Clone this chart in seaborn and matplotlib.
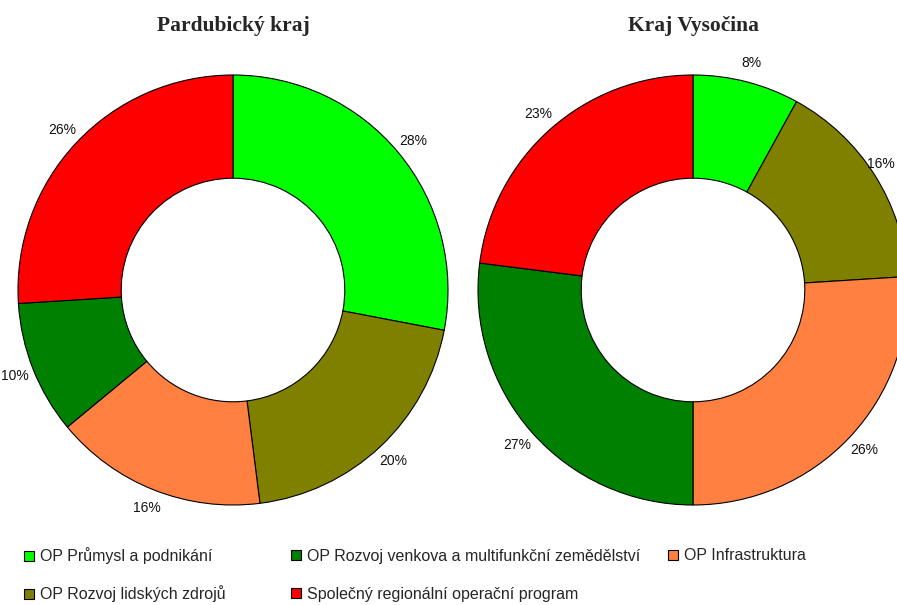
import matplotlib
matplotlib.use("Agg")
import matplotlib.pyplot as plt
import seaborn as sns
from matplotlib.patches import Patch

sns.set_theme(style="white")
plt.rcParams['font.family'] = ['Liberation Sans', 'DejaVu Sans']

categories = [
    "OP Průmysl a podnikání",
    "OP Rozvoj lidských zdrojů",
    "OP Infrastruktura",
    "OP Rozvoj venkova a multifunkční zemědělství",
    "Společný regionální operační program",
]
colors = ["#00FF00", "#808000", "#FF8040", "#008000", "#FF0000"]
regions = ["Pardubický kraj", "Kraj Vysočina"]
pardubicky = [28, 20, 16, 10, 26]
vysocina = [8, 16, 26, 27, 23]
values = [pardubicky, vysocina]

fig = plt.figure(figsize=(8.97, 6.05), dpi=100)
W, H = 897, 605
centers = [(233, 290), (693, 290)]
R = 215
all_texts = []
for (cx, cy), vals, title in zip(centers, values, regions):
    ax = fig.add_axes([(cx - R) / W, (H - cy - R) / H, 2 * R / W, 2 * R / H])
    wedges, texts = ax.pie(
        vals, colors=colors, startangle=90, counterclock=False, radius=1,
        labels=[f"{v}%" for v in vals], labeldistance=1.09,
        wedgeprops=dict(width=0.48, edgecolor="black", linewidth=0.8),
        textprops=dict(fontsize=10, color="#111111"),
    )
    for t in texts:
        t.set_ha("center")
        t.set_va("center")
        t.set_clip_on(False)
        all_texts.append(t)
    ax.set_xlim(-1, 1)
    ax.set_ylim(-1, 1)
    ax.set_aspect("equal")
    ax.axis("off")
    fig.text(cx / W, 1 - 26 / H, title, ha="center", va="center",
             fontsize=15.5, fontweight="bold", family="Liberation Serif")

# keep labels inside the figure
fig.canvas.draw()
renderer = fig.canvas.get_renderer()
for t in all_texts:
    bb = t.get_window_extent(renderer)
    if bb.x1 > W - 2:
        shift = bb.x1 - (W - 2)
        t.set_transform(t.get_transform() + matplotlib.transforms.Affine2D().translate(-shift, 0))

# legend: one entry per slot (x, y in pixels)
slots = {0: (24, 556), 3: (291, 556), 2: (668, 556), 1: (24, 594), 4: (291, 594)}
for i, (x0, y0) in slots.items():
    handle = Patch(facecolor=colors[i], edgecolor="black", linewidth=0.8, label=categories[i])
    fig.legend(handles=[handle], loc="center left", bbox_to_anchor=(x0 / W, 1 - y0 / H),
               frameon=False, fontsize=11.5, handlelength=0.65, handleheight=0.65,
               handletextpad=0.35, borderaxespad=0, borderpad=0)

fig.savefig("out.png", dpi=100, facecolor="white")
